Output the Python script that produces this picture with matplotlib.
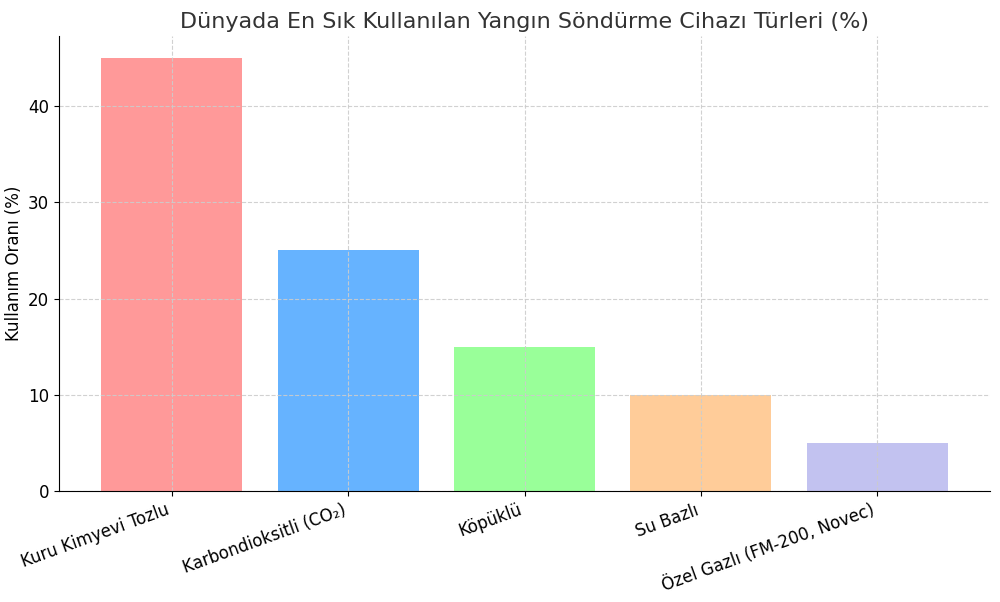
import matplotlib.pyplot as plt

categories = ["Kuru Kimyevi Tozlu", "Karbondioksitli (CO₂)", "Köpüklü", "Su Bazlı",
              "Özel Gazlı (FM-200, Novec)"]
values = [45, 25, 15, 10, 5]
colors = ["#ff9999", "#66b3ff", "#99ff99", "#ffcc99", "#c2c2f0"]

fig, ax = plt.subplots(figsize=(10, 6.02), dpi=100)
ax.bar(categories, values, color=colors)
ax.set_title("Dünyada En Sık Kullanılan Yangın Söndürme Cihazı Türleri (%)", fontsize=16, color="#333333")
ax.set_ylabel("Kullanım Oranı (%)", fontsize=12)
ax.tick_params(axis="both", labelsize=12)
plt.setp(ax.get_xticklabels(), rotation=20, ha="right")
ax.grid(True, linestyle="--", color="#cccccc", alpha=0.9)
ax.spines["top"].set_visible(False)
ax.spines["right"].set_visible(False)
fig.subplots_adjust(left=0.059, right=0.990, bottom=0.184, top=0.94)
plt.savefig("out.png", dpi=100)
